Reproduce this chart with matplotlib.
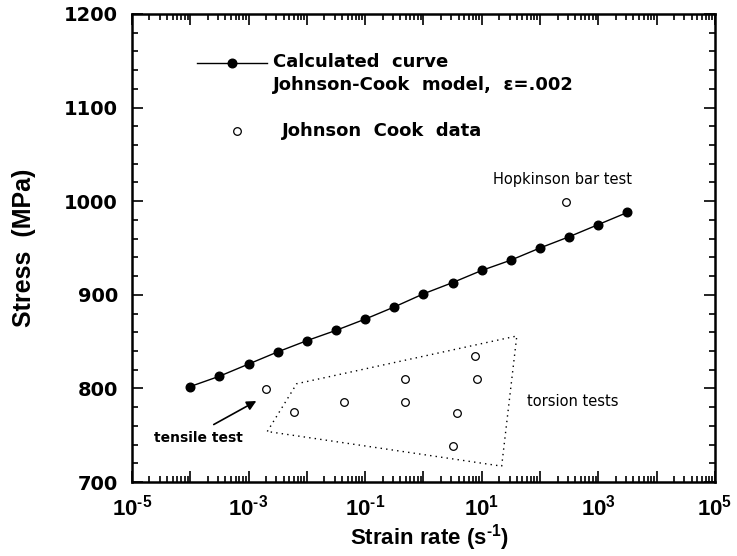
import matplotlib
matplotlib.use("Agg")
import matplotlib.pyplot as plt
import numpy as np
from matplotlib.ticker import FixedLocator, FuncFormatter, MultipleLocator, LogLocator, NullFormatter

# ---- data ----
calc_log_rate = [-4, -3.5, -3, -2.5, -2, -1.5, -1, -0.5, 0, 0.5, 1, 1.5, 2, 2.5, 3, 3.5]
calc_stress = [802, 813, 826, 839, 851, 862, 874, 887, 901, 913, 926, 937, 950, 962, 975, 988]

data_rate = [2.0e-3, 6.0e-3, 0.043, 0.48, 0.48, 7.6, 8.2, 3.7, 3.2, 280]
data_stress = [799, 775, 786, 810, 786, 835, 810, 774, 739, 999]

torsion_rate = [2.1e-3, 6.7e-3, 40, 22, 2.1e-3]
torsion_stress = [754, 805, 856, 717, 754]

plt.rcParams['font.family'] = ['Liberation Sans', 'DejaVu Sans']
plt.rcParams['mathtext.fontset'] = 'custom'
plt.rcParams['mathtext.rm'] = 'Liberation Sans:bold'
plt.rcParams['mathtext.bf'] = 'Liberation Sans:bold'
plt.rcParams['mathtext.it'] = 'Liberation Sans:bold'

fig = plt.figure(figsize=(7.37, 5.56), dpi=100)
ax = fig.add_axes([0.179, 0.133, 0.791, 0.842])

calc_rate = [10 ** v for v in calc_log_rate]
ax.plot(calc_rate, calc_stress, '-', color='black', lw=1.0,
        marker='o', ms=6.2, mfc='black', mec='black')
ax.plot(data_rate, data_stress, 'o', ms=5.5, mfc='white', mec='black', mew=0.9, ls='none')
ax.plot(torsion_rate, torsion_stress, ls=(0, (1, 3)), color='black', lw=1.0)

ax.set_xscale('log')
ax.set_xlim(1e-5, 1e5)
ax.set_ylim(700, 1200)

# ticks
ax.xaxis.set_major_locator(FixedLocator([10.0 ** e for e in range(-5, 6)]))
def fmt(v, pos):
    e = int(round(np.log10(v)))
    if e % 2 == 0:
        return ''
    if e < 0:
        return r'$\mathbf{10}^{\text{-%d}}$' % (-e)
    return r'$\mathbf{10}^{\text{%d}}$' % e
ax.xaxis.set_major_formatter(FuncFormatter(fmt))
ax.xaxis.set_minor_locator(LogLocator(base=10, subs=np.arange(2, 10), numticks=100))
ax.xaxis.set_minor_formatter(NullFormatter())
ax.yaxis.set_major_locator(MultipleLocator(100))
ax.yaxis.set_minor_locator(MultipleLocator(20))

ax.tick_params(which='both', direction='in', top=True, right=True, width=1.2)
ax.tick_params(which='major', length=8)
ax.tick_params(which='minor', length=4)
ax.tick_params(axis='x', which='major', labelsize=16, pad=9)
ax.tick_params(axis='y', which='major', labelsize=14, pad=10)
for lab in ax.get_yticklabels():
    lab.set_fontfamily('DejaVu Sans')
    lab.set_fontweight('bold')
for s in ax.spines.values():
    s.set_linewidth(1.8)

ax.set_xlabel(r'Strain rate (s$^{\text{-1}}$)', fontsize=16, fontweight='bold')
ax.xaxis.set_label_coords(0.511, -0.085)
ax.set_ylabel('Stress  (MPa)', fontsize=18, fontweight='bold')
ax.yaxis.set_label_coords(-0.165, 0.50)

# legend (manual, axes fraction)
leg_font = dict(fontsize=13, fontweight='bold', family='DejaVu Sans')
ax.plot([0.111, 0.231], [0.895, 0.895], '-', color='black', lw=1.0, transform=ax.transAxes)
ax.plot([0.171], [0.895], 'o', color='black', ms=6.2, transform=ax.transAxes)
ax.text(0.242, 0.898, 'Calculated  curve', transform=ax.transAxes,
        va='center', ha='left', **leg_font)
ax.text(0.242, 0.848, 'Johnson-Cook  model,  \u03b5=.002', transform=ax.transAxes,
        va='center', ha='left', **leg_font)
ax.plot([0.181], [0.750], 'o', ms=5.5, mfc='white', mec='black', mew=0.9, transform=ax.transAxes)
ax.text(0.257, 0.750, 'Johnson  Cook  data', transform=ax.transAxes,
        va='center', ha='left', **leg_font)

# annotations
ax.text(244, 1023, 'Hopkinson bar test', fontsize=10.5, family='DejaVu Sans', ha='center', va='center')
ax.text(371, 786, 'torsion tests', fontsize=10.5, family='DejaVu Sans', ha='center', va='center')
ax.text(1.37e-4, 747, 'tensile test', fontsize=10, family='DejaVu Sans', fontweight='bold',
        ha='center', va='center')
ax.annotate('', xy=(1.5e-3, 788), xytext=(2.3e-4, 760),
            arrowprops=dict(arrowstyle='-|>', color='black', lw=1.2, mutation_scale=14))

fig.savefig('out.png', dpi=100)
